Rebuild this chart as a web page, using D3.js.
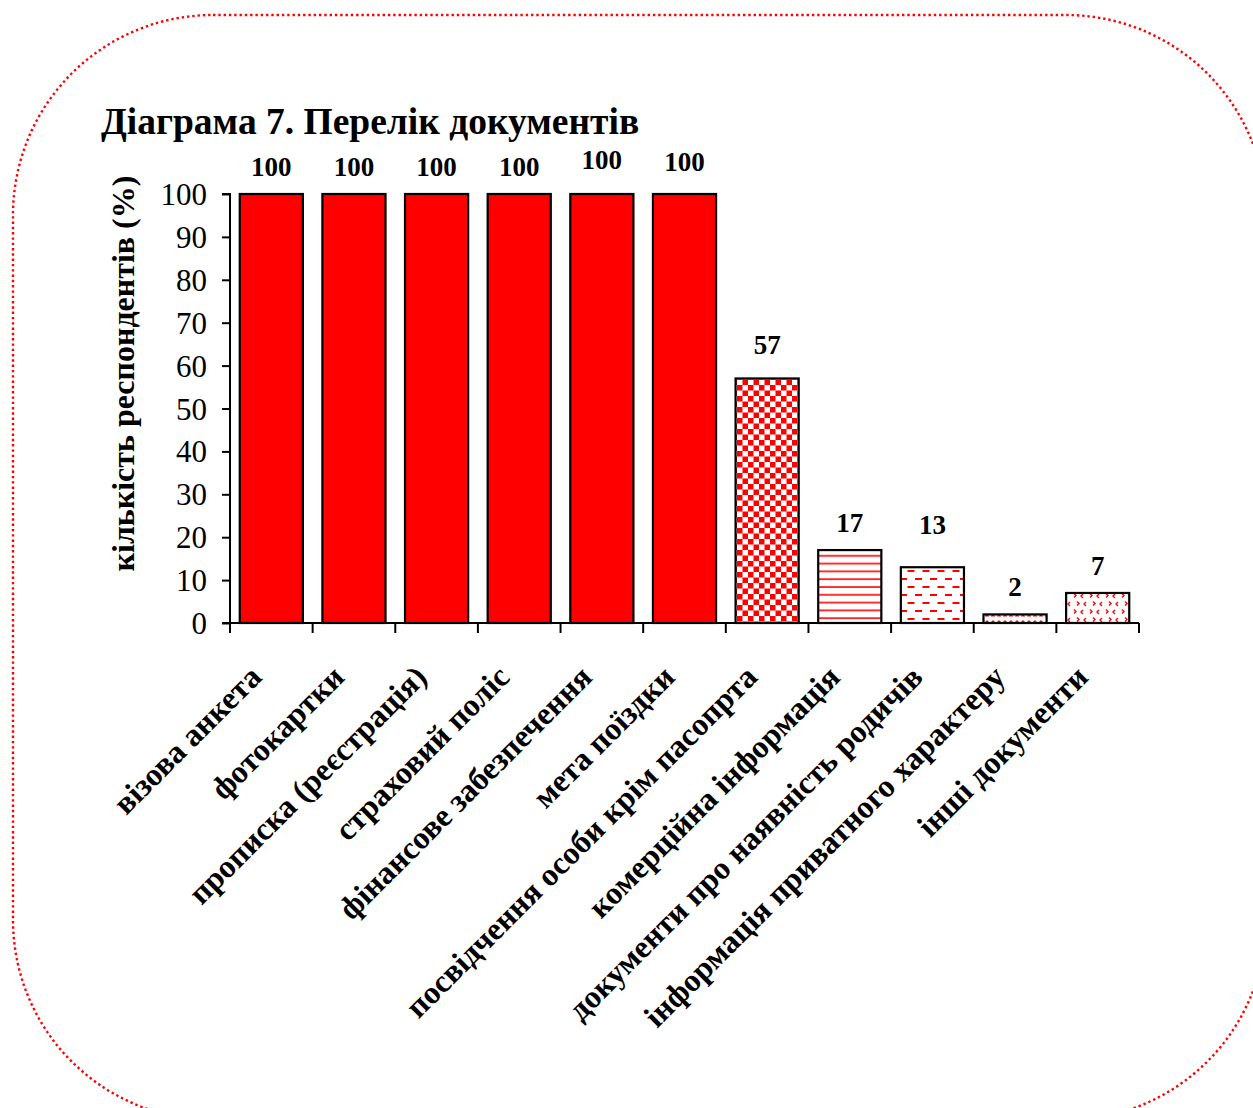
<!DOCTYPE html>
<html>
<head>
<meta charset="utf-8">
<script src="https://cdn.jsdelivr.net/npm/d3@7"></script>
<style>
  html, body { margin: 0; padding: 0; background: #fff; }
  svg { display: block; }
  text { font-family: "Liberation Serif", "Times New Roman", serif; fill: #000; }
</style>
</head>
<body>
<script>
// Documents required, share of respondents (%)
const categories = [
  "візова анкета",
  "фотокартки",
  "прописка (реєстрація)",
  "страховий поліс",
  "фінансове забезпечення",
  "мета поїздки",
  "посвідчення особи крім пасопрта",
  "комерційна інформація",
  "документи про наявність родичів",
  "інформація приватного характеру",
  "інші документи"
];
const values = [100, 100, 100, 100, 100, 100, 57, 17, 13, 2, 7];
const fillKinds = ["solid", "solid", "solid", "solid", "solid", "solid",
                   "checker", "hlines", "dashes", "ticks", "chevrons"];
const yTicks = [0, 10, 20, 30, 40, 50, 60, 70, 80, 90, 100];
const titleText = "Діаграма 7. Перелік документів";
const yTitle = "кількість респондентів (%)";

const W = 1253, H = 1108;
const RED = "#ff0000";

// extra lift (px) for a few value labels that sit higher above their bars
const labelLift = { 4: 7, 5: 5, 6: 6, 8: 15 };

const svg = d3.select("body").append("svg")
  .attr("width", W).attr("height", H);

// ---- fill patterns ----
const defs = svg.append("defs");

const checker = defs.append("pattern").attr("id", "checker")
  .attr("patternUnits", "userSpaceOnUse").attr("width", 11).attr("height", 11);
checker.append("rect").attr("width", 11).attr("height", 11).attr("fill", "#fff");
checker.append("rect").attr("x", 0).attr("y", 0).attr("width", 5.5).attr("height", 5.5).attr("fill", RED);
checker.append("rect").attr("x", 5.5).attr("y", 5.5).attr("width", 5.5).attr("height", 5.5).attr("fill", RED);

const hlines = defs.append("pattern").attr("id", "hlines")
  .attr("patternUnits", "userSpaceOnUse").attr("width", 8).attr("height", 7.8);
hlines.append("rect").attr("width", 8).attr("height", 7.8).attr("fill", "#fff");
hlines.append("line").attr("x1", 0).attr("x2", 8).attr("y1", 2).attr("y2", 2)
  .attr("stroke", RED).attr("stroke-width", 1.6);

const dashes = defs.append("pattern").attr("id", "dashes")
  .attr("patternUnits", "userSpaceOnUse").attr("width", 15).attr("height", 16);
dashes.append("rect").attr("width", 15).attr("height", 16).attr("fill", "#fff");
dashes.append("line").attr("x1", 0).attr("x2", 7).attr("y1", 3).attr("y2", 3)
  .attr("stroke", RED).attr("stroke-width", 2);
dashes.append("line").attr("x1", 7.5).attr("x2", 14.5).attr("y1", 11).attr("y2", 11)
  .attr("stroke", RED).attr("stroke-width", 2);

const ticksP = defs.append("pattern").attr("id", "ticks")
  .attr("patternUnits", "userSpaceOnUse").attr("width", 6).attr("height", 6);
ticksP.append("rect").attr("width", 6).attr("height", 6).attr("fill", "#fff");
ticksP.append("path").attr("d", "M1.5,4.5 L3.5,2.5 M3.5,4.5 L4.5,3.5")
  .attr("stroke", RED).attr("stroke-width", 1.4).attr("fill", "none");

const chev = defs.append("pattern").attr("id", "chevrons")
  .attr("patternUnits", "userSpaceOnUse").attr("width", 16).attr("height", 16);
chev.append("rect").attr("width", 16).attr("height", 16).attr("fill", "#fff");
chev.append("path")
  .attr("d", "M2,1.5 L4,3.5 L2,5.5 M11,2 L9,4 L11,6 M5,9.5 L7,11.5 L5,13.5 M14,10 L12,12 L14,14")
  .attr("stroke", RED).attr("stroke-width", 1.4).attr("fill", "none");

// ---- dotted rounded frame ----
svg.append("rect")
  .attr("x", 13).attr("y", 15).attr("width", 1253).attr("height", 1105)
  .attr("rx", 200).attr("ry", 200)
  .attr("fill", "none").attr("stroke", RED).attr("stroke-width", 2.4)
  .attr("stroke-dasharray", "2.4 2.9");

// ---- title ----
svg.append("text")
  .attr("x", 101).attr("y", 134)
  .attr("font-size", 37.5).attr("font-weight", "bold")
  .text(titleText);

// ---- scales ----
const x0 = 230, x1 = 1139, yBase = 623, yTop = 194;
const x = d3.scaleBand().domain(categories).range([x0, x1])
  .paddingInner(0.236).paddingOuter(0.118);
const y = d3.scaleLinear().domain([0, 100]).range([yBase, yTop]);
const step = x.step();

// ---- bars ----
svg.append("g").selectAll("rect").data(categories).join("rect")
  .attr("x", d => x(d))
  .attr("y", (d, i) => y(values[i]))
  .attr("width", x.bandwidth())
  .attr("height", (d, i) => y(0) - y(values[i]))
  .attr("fill", (d, i) => fillKinds[i] === "solid" ? RED : `url(#${fillKinds[i]})`)
  .attr("stroke", "#000").attr("stroke-width", 2.2);

// ---- value labels ----
svg.append("g").selectAll("text").data(categories).join("text")
  .attr("x", d => x(d) + x.bandwidth() / 2)
  .attr("y", (d, i) => y(values[i]) - 18 - (labelLift[i] || 0))
  .attr("text-anchor", "middle")
  .attr("font-size", 27).attr("font-weight", "bold")
  .text((d, i) => values[i]);

// ---- y axis ----
const yAxis = d3.axisLeft(y).tickValues(yTicks).tickSize(8).tickPadding(15);
const gy = svg.append("g").attr("transform", `translate(${x0},0)`).call(yAxis);
gy.select(".domain").attr("stroke", "#000").attr("stroke-width", 2)
  .attr("d", `M-8,${yTop}H0V${yBase}H-8`);
gy.selectAll(".tick line").attr("stroke", "#000").attr("stroke-width", 2);
gy.selectAll(".tick text")
  .attr("font-family", "'Liberation Serif', 'Times New Roman', serif")
  .attr("font-size", 31).attr("fill", "#000").attr("dy", "0.34em");

// ---- x axis line with ticks on the category boundaries ----
const boundaries = d3.range(categories.length + 1).map(i => x0 + i * step);
const gx = svg.append("g");
gx.append("line").attr("x1", x0).attr("x2", x1).attr("y1", yBase).attr("y2", yBase)
  .attr("stroke", "#000").attr("stroke-width", 2);
gx.selectAll("line.tk").data(boundaries).join("line").attr("class", "tk")
  .attr("x1", d => d).attr("x2", d => d).attr("y1", yBase).attr("y2", yBase + 10)
  .attr("stroke", "#000").attr("stroke-width", 2);

// ---- rotated category labels ----
svg.append("g").selectAll("text").data(categories).join("text")
  .attr("transform", d => `translate(${x(d) + x.bandwidth() / 2 - 8},${yBase + 56}) rotate(-45)`)
  .attr("text-anchor", "end")
  .attr("font-size", 32).attr("font-weight", "bold")
  .text(d => d);

// ---- y axis title ----
svg.append("text")
  .attr("transform", `translate(134,${(yBase + yTop) / 2 - 35}) rotate(-90)`)
  .attr("text-anchor", "middle")
  .attr("font-size", 32).attr("font-weight", "bold")
  .text(yTitle);
</script>
</body>
</html>
